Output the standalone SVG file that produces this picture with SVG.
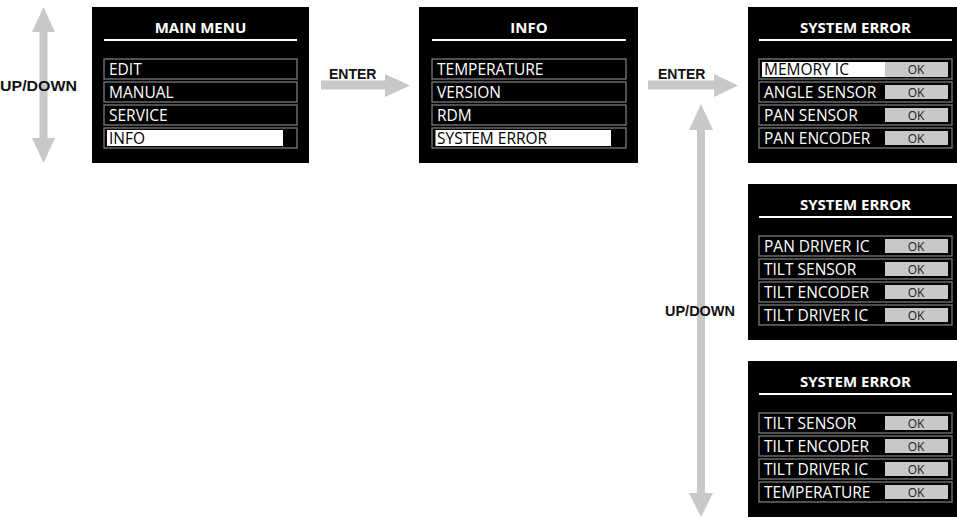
<svg xmlns="http://www.w3.org/2000/svg" width="957" height="518" viewBox="0 0 957 518">
<style>
.box{fill:#000}
.rule{stroke:#fff;stroke-width:2}
.title{font-family:"Open Sans","DejaVu Sans",sans-serif;font-weight:bold;font-size:15px;fill:#fff;text-anchor:middle}
.row{fill:none;stroke:#7a7a7a;stroke-width:1.3}
.item{font-family:"Open Sans","DejaVu Sans",sans-serif;font-size:15.5px;fill:#fff}
.sel{fill:#fff}
.item.dark{fill:#000}
.ok{fill:#c8c8c8}
.oktxt{font-family:"Open Sans","DejaVu Sans",sans-serif;font-size:12px;fill:#222;text-anchor:middle}
.arrow{fill:#c8c8c8}
.lbl{font-family:"Liberation Sans",Arial,sans-serif;font-weight:bold;font-size:14px;fill:#111}
</style>
<rect width="957" height="518" fill="#fff"/>

<g id="connectors">
  <polygon class="arrow" points="43.5,7 55,32 47.5,32 47.5,138 55,138 43.5,163 32,138 39.5,138 39.5,32 32,32"/>
  <polygon class="arrow" points="321,80.5 385,80.5 385,74 410,85.5 385,97 385,89.5 321,89.5"/>
  <polygon class="arrow" points="648,80.5 714,80.5 714,74 738,85.5 714,97 714,89.5 648,89.5"/>
  <polygon class="arrow" points="701,104 713,130 705,130 705,493 713,493 701,517 689,493 697,493 697,130 689,130"/>
  <text class="lbl" x="0" y="90.5" font-size="15" textLength="77" lengthAdjust="spacingAndGlyphs">UP/DOWN</text>
  <text class="lbl" x="329" y="79">ENTER</text>
  <text class="lbl" x="658" y="79">ENTER</text>
  <text class="lbl" x="665" y="316" textLength="70" lengthAdjust="spacingAndGlyphs">UP/DOWN</text>
</g>

<g id="main-menu">
  <rect class="box" x="92" y="7" width="217" height="156"/>
  <text class="title" x="200.5" y="33">MAIN MENU</text>
  <line class="rule" x1="104" y1="40" x2="297" y2="40"/>
  <rect class="row" x="104" y="59" width="193" height="20"/>
  <rect class="row" x="104" y="82" width="193" height="20"/>
  <rect class="row" x="104" y="105" width="193" height="20"/>
  <rect class="row" x="104" y="128" width="193" height="20"/>
  <rect class="sel" x="107" y="130" width="176" height="16"/>
  <text class="item" x="109" y="75">EDIT</text>
  <text class="item" x="109" y="98">MANUAL</text>
  <text class="item" x="109" y="121">SERVICE</text>
  <text class="item dark" x="109" y="144">INFO</text>
</g>

<g id="info">
  <rect class="box" x="419" y="7" width="219" height="156"/>
  <text class="title" x="529" y="33">INFO</text>
  <line class="rule" x1="432" y1="40" x2="626" y2="40"/>
  <rect class="row" x="432" y="59" width="194" height="20"/>
  <rect class="row" x="432" y="82" width="194" height="20"/>
  <rect class="row" x="432" y="105" width="194" height="20"/>
  <rect class="row" x="432" y="128" width="194" height="20"/>
  <rect class="sel" x="435.5" y="130" width="175.5" height="16"/>
  <text class="item" x="437" y="75">TEMPERATURE</text>
  <text class="item" x="437" y="98">VERSION</text>
  <text class="item" x="437" y="121">RDM</text>
  <text class="item dark" x="437" y="144">SYSTEM ERROR</text>
</g>

<g id="system-error-1">
  <rect class="box" x="748" y="7" width="209" height="156"/>
  <text class="title" x="855.5" y="33">SYSTEM ERROR</text>
  <line class="rule" x1="759" y1="40" x2="952" y2="40"/>
  <rect class="row" x="759" y="59" width="193" height="20"/>
  <rect class="row" x="759" y="82" width="193" height="20"/>
  <rect class="row" x="759" y="105" width="193" height="20"/>
  <rect class="row" x="759" y="128" width="193" height="20"/>
  <rect class="sel" x="762" y="62" width="123" height="15"/>
  <rect class="ok" x="885" y="62" width="63" height="15"/>
  <rect class="ok" x="885" y="85" width="63" height="14"/>
  <rect class="ok" x="885" y="108" width="63" height="14"/>
  <rect class="ok" x="885" y="131" width="63" height="14"/>
  <text class="item dark" x="764" y="75">MEMORY IC</text>
  <text class="item" x="764" y="98">ANGLE SENSOR</text>
  <text class="item" x="764" y="121">PAN SENSOR</text>
  <text class="item" x="764" y="144">PAN ENCODER</text>
  <text class="oktxt" x="916" y="74">OK</text>
  <text class="oktxt" x="916" y="96.5">OK</text>
  <text class="oktxt" x="916" y="119.5">OK</text>
  <text class="oktxt" x="916" y="142.5">OK</text>
</g>

<g id="system-error-2">
  <rect class="box" x="748" y="184" width="209" height="156"/>
  <text class="title" x="855.5" y="210">SYSTEM ERROR</text>
  <line class="rule" x1="759" y1="217" x2="952" y2="217"/>
  <rect class="row" x="759" y="236" width="193" height="20"/>
  <rect class="row" x="759" y="259" width="193" height="20"/>
  <rect class="row" x="759" y="282" width="193" height="20"/>
  <rect class="row" x="759" y="305" width="193" height="20"/>
  <rect class="ok" x="885" y="239" width="63" height="14"/>
  <rect class="ok" x="885" y="262" width="63" height="14"/>
  <rect class="ok" x="885" y="285" width="63" height="14"/>
  <rect class="ok" x="885" y="308" width="63" height="14"/>
  <text class="item" x="764" y="252">PAN DRIVER IC</text>
  <text class="item" x="764" y="275">TILT SENSOR</text>
  <text class="item" x="764" y="298">TILT ENCODER</text>
  <text class="item" x="764" y="321">TILT DRIVER IC</text>
  <text class="oktxt" x="916" y="250.5">OK</text>
  <text class="oktxt" x="916" y="273.5">OK</text>
  <text class="oktxt" x="916" y="296.5">OK</text>
  <text class="oktxt" x="916" y="319.5">OK</text>
</g>

<g id="system-error-3">
  <rect class="box" x="748" y="361" width="209" height="156"/>
  <text class="title" x="855.5" y="387">SYSTEM ERROR</text>
  <line class="rule" x1="759" y1="394" x2="952" y2="394"/>
  <rect class="row" x="759" y="413" width="193" height="20"/>
  <rect class="row" x="759" y="436" width="193" height="20"/>
  <rect class="row" x="759" y="459" width="193" height="20"/>
  <rect class="row" x="759" y="482" width="193" height="20"/>
  <rect class="ok" x="885" y="416" width="63" height="14"/>
  <rect class="ok" x="885" y="439" width="63" height="14"/>
  <rect class="ok" x="885" y="462" width="63" height="14"/>
  <rect class="ok" x="885" y="485" width="63" height="14"/>
  <text class="item" x="764" y="429">TILT SENSOR</text>
  <text class="item" x="764" y="452">TILT ENCODER</text>
  <text class="item" x="764" y="475">TILT DRIVER IC</text>
  <text class="item" x="764" y="498">TEMPERATURE</text>
  <text class="oktxt" x="916" y="427.5">OK</text>
  <text class="oktxt" x="916" y="450.5">OK</text>
  <text class="oktxt" x="916" y="473.5">OK</text>
  <text class="oktxt" x="916" y="496.5">OK</text>
</g>
</svg>
